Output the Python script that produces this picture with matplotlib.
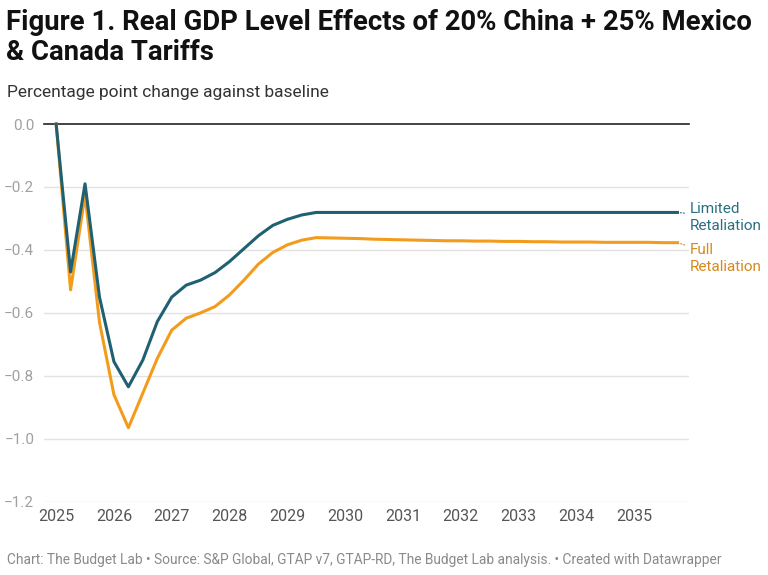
import matplotlib.pyplot as plt
import numpy as np

plt.rcParams['font.family'] = ['Roboto', 'DejaVu Sans']

# quarterly, Q1 2025 .. Q4 2035
years = [2025, 2026, 2027, 2028, 2029, 2030, 2031, 2032, 2033, 2034, 2035]
quarter_x = [y + q / 4 for y in years for q in range(4)]

limited = [0.0, -0.47, -0.19, -0.55, -0.755, -0.835, -0.75, -0.628,
           -0.55, -0.512, -0.496, -0.472, -0.437, -0.396, -0.355, -0.322,
           -0.303, -0.289, -0.281, -0.281, -0.281, -0.281, -0.281, -0.281,
           -0.281, -0.281, -0.281, -0.281, -0.281, -0.281, -0.281, -0.281,
           -0.281, -0.281, -0.281, -0.281, -0.281, -0.281, -0.281, -0.281,
           -0.281, -0.281, -0.281, -0.281]
full = [0.0, -0.527, -0.225, -0.63, -0.86, -0.965, -0.855, -0.745,
        -0.655, -0.617, -0.600, -0.580, -0.543, -0.496, -0.445, -0.408,
        -0.384, -0.369, -0.361, -0.362, -0.363, -0.364, -0.366, -0.367,
        -0.368, -0.369, -0.370, -0.371, -0.371, -0.372, -0.372, -0.373,
        -0.373, -0.374, -0.374, -0.375, -0.375, -0.375, -0.376, -0.376,
        -0.376, -0.376, -0.377, -0.377]

y_ticks = [0.0, -0.2, -0.4, -0.6, -0.8, -1.0, -1.2]

blue = '#1f6072'
orange = '#f39c1c'

fig = plt.figure(figsize=(7.68, 5.75), dpi=100)
ax = fig.add_axes([44 / 768, 1 - 501.7 / 575, 645 / 768, 377.7 / 575])

ax.set_xlim(2024.79, 2035.95)
ax.set_ylim(-1.2, 0)

for t in y_ticks[1:]:
    ax.axhline(t, color='#e3e3e3', lw=1, zorder=0)
ax.axhline(0, color='#222222', lw=1.2, zorder=1, clip_on=False)

ax.plot(quarter_x, full, color=orange, lw=2.2, zorder=3, clip_on=False)
ax.plot(quarter_x, limited, color=blue, lw=2.2, zorder=4, clip_on=False)

for s in ax.spines.values():
    s.set_visible(False)

ax.set_yticks(y_ticks)
ax.set_yticklabels(['0.0', '\u22120.2', '\u22120.4', '\u22120.6', '\u22120.8', '\u22121.0', '\u22121.2'])
ax.tick_params(axis='y', length=0, pad=7, labelsize=11, labelcolor='#a0a0a0')
ax.set_xticks(years)
ax.set_xticklabels([str(y) for y in years])
ax.tick_params(axis='x', length=0, pad=5, labelsize=11.5, labelcolor='#555555')

# direct line labels
ax.annotate('Limited\nRetaliation', xy=(quarter_x[-1], limited[-1]),
            xytext=(9, 7.5), textcoords='offset points', va='top', ha='left',
            fontsize=11, color='#2b6e80', linespacing=1.25,
            arrowprops=dict(arrowstyle='-', color='#2b6e80', lw=0.8, ls=':',
                            shrinkA=2, shrinkB=1))
ax.annotate('Full\nRetaliation', xy=(quarter_x[-1], full[-1]),
            xytext=(9, -0.5), textcoords='offset points', va='top', ha='left',
            fontsize=11, color='#d48a1e', linespacing=1.25,
            arrowprops=dict(arrowstyle='-', color='#d48a1e', lw=0.8, ls=':',
                            shrinkA=2, shrinkB=1))

fig.text(6 / 768, 1 - 22 / 575, 'Figure 1. Real GDP Level Effects of 20% China + 25% Mexico',
         fontsize=19.8, fontweight='bold', color='#111111', va='center', ha='left')
fig.text(6 / 768, 1 - 52 / 575, '& Canada Tariffs',
         fontsize=19.8, fontweight='bold', color='#111111', va='center', ha='left')
fig.text(7 / 768, 1 - 92 / 575, 'Percentage point change against baseline',
         fontsize=12.5, color='#333333', va='center', ha='left')
fig.text(7 / 768, 1 - 560 / 575,
         'Chart: The Budget Lab \u2022 Source: S&P Global, GTAP v7, GTAP-RD, The Budget Lab analysis. \u2022 Created with Datawrapper',
         fontsize=9.9, color='#8a8a8a', va='center', ha='left')

fig.savefig('out.png', dpi=100)
